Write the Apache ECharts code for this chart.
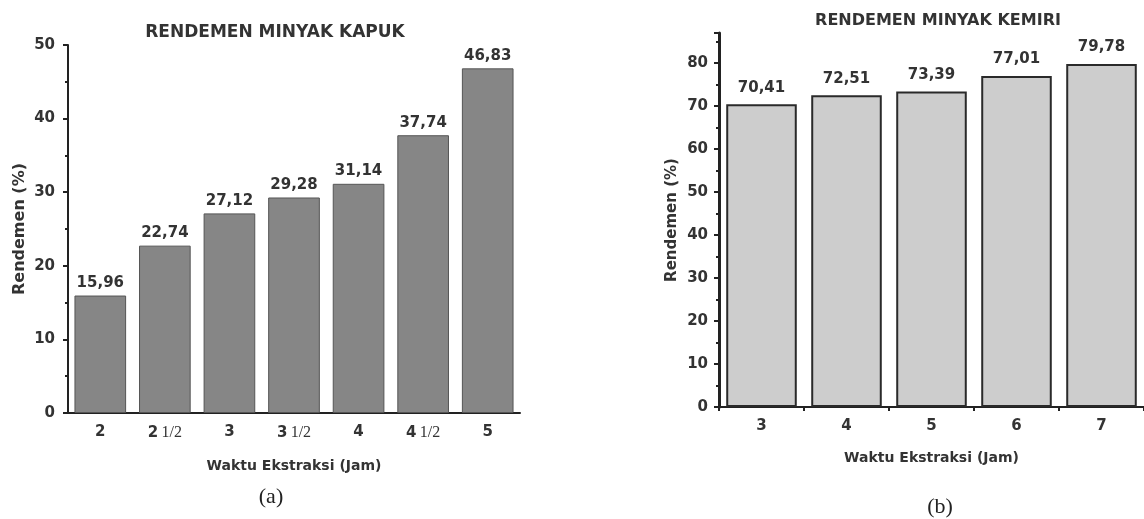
<!DOCTYPE html>
<html>
<head>
<meta charset="utf-8">
<script src="https://cdn.jsdelivr.net/npm/echarts@6/dist/echarts.min.js"></script>
<style>html,body{margin:0;padding:0;background:#fff}#c{width:1144px;height:519px}</style>
</head>
<body>
<div id="c"></div>
<script>
// Chart (a): Rendemen Minyak Kapuk
var kapukCategories = ['2', '2 1/2', '3', '3 1/2', '4', '4 1/2', '5'];
var kapukValues = [15.96, 22.74, 27.12, 29.28, 31.14, 37.74, 46.83];
var kapukYMax = 50;
var kapukYInterval = 10;

// Chart (b): Rendemen Minyak Kemiri
var kemiriCategories = ['3', '4', '5', '6', '7'];
var kemiriValues = [70.41, 72.51, 73.39, 77.01, 79.78];
var kemiriYMax = 87;
var kemiriYInterval = 10;

var titles = ['RENDEMEN MINYAK KAPUK', 'RENDEMEN MINYAK KEMIRI'];
var subLabels = ['(a)', '(b)'];
var yName = 'Rendemen (%)';
var xName = 'Waktu Ekstraksi (Jam)';

var FONT = 'DejaVu Sans';
var TXT = '#333';

function fmtComma(p) { return p.value.toFixed(2).replace('.', ','); }
function catLabel(v) {
  var parts = v.split(' ');
  if (parts.length === 2) return '{n|' + parts[0] + '} {f|' + parts[1] + '}';
  return '{n|' + v + '}';
}

var chart = echarts.init(document.getElementById('c'));
chart.setOption({
  backgroundColor: '#fff',
  animation: false,
  title: [
    { text: titles[0], left: 270, top: 19, textAlign: 'center',
      textStyle: { fontFamily: FONT, fontSize: 17, fontWeight: 'bold', color: TXT } },
    { text: titles[1], left: 933, top: 8, textAlign: 'center',
      textStyle: { fontFamily: FONT, fontSize: 16, fontWeight: 'bold', color: TXT } },
    { text: subLabels[0], left: 266, top: 481, textAlign: 'center',
      textStyle: { fontFamily: 'Liberation Serif', fontSize: 22, fontWeight: 'normal', color: '#222' } },
    { text: subLabels[1], left: 935, top: 491, textAlign: 'center',
      textStyle: { fontFamily: 'Liberation Serif', fontSize: 22, fontWeight: 'normal', color: '#222' } }
  ],
  grid: [
    { left: 68, right: 624, top: 45, bottom: 106 },
    { left: 719, right: -11, top: 33, bottom: 112 }
  ],
  xAxis: [
    { type: 'category', gridIndex: 0, data: kapukCategories,
      name: xName, nameLocation: 'middle', nameGap: 46,
      nameTextStyle: { fontFamily: FONT, fontSize: 14, fontWeight: 'bold', color: TXT },
      axisLine: { lineStyle: { color: '#222', width: 2 } },
      axisTick: { alignWithLabel: true, interval: 0, length: 5, lineStyle: { color: '#222', width: 2 } },
      axisLabel: { margin: 12, interval: 0, formatter: catLabel,
        rich: { n: { fontFamily: FONT, fontSize: 15, fontWeight: 'bold', color: TXT },
                f: { fontFamily: 'Liberation Serif', fontSize: 16, color: TXT } } } },
    { type: 'category', gridIndex: 1, data: kemiriCategories,
      name: xName, nameLocation: 'middle', nameGap: 44,
      nameTextStyle: { fontFamily: FONT, fontSize: 14, fontWeight: 'bold', color: TXT },
      axisLine: { lineStyle: { color: '#222', width: 2 } },
      axisTick: { alignWithLabel: true, interval: 0, length: 6, lineStyle: { color: '#222', width: 2 } },
      axisLabel: { margin: 12, interval: 0, fontFamily: FONT, fontSize: 15, fontWeight: 'bold', color: TXT } },
    { type: 'category', gridIndex: 1, data: kemiriCategories, position: 'bottom', offset: 0,
      axisLine: { show: true, lineStyle: { color: '#222', width: 2 } },
      axisTick: { show: true, interval: 0, alignWithLabel: false, length: 4, lineStyle: { color: '#222', width: 2 } },
      axisLabel: { show: false } }
  ],
  yAxis: [
    { type: 'value', gridIndex: 0, min: 0, max: kapukYMax, interval: kapukYInterval,
      name: yName, nameLocation: 'middle', nameGap: 40,
      nameTextStyle: { fontFamily: FONT, fontSize: 16, fontWeight: 'bold', color: TXT },
      axisLine: { show: true, lineStyle: { color: '#222', width: 2 } },
      axisTick: { show: true, length: 5, lineStyle: { color: '#222', width: 2 } },
      minorTick: { show: true, splitNumber: 2, length: 3, lineStyle: { color: '#222', width: 2 } },
      splitLine: { show: false },
      axisLabel: { margin: 13, fontFamily: FONT, fontSize: 15, fontWeight: 'bold', color: TXT } },
    { type: 'value', gridIndex: 1, min: 0, max: kemiriYMax, interval: kemiriYInterval,
      name: yName, nameLocation: 'middle', nameGap: 39,
      nameTextStyle: { fontFamily: FONT, fontSize: 15, fontWeight: 'bold', color: TXT },
      axisLine: { show: true, lineStyle: { color: '#222', width: 3 } },
      axisTick: { show: true, length: 5, lineStyle: { color: '#222', width: 2 } },
      minorTick: { show: true, splitNumber: 2, length: 3, lineStyle: { color: '#222', width: 2 } },
      splitLine: { show: false },
      axisLabel: { margin: 11, showMaxLabel: false, fontFamily: FONT, fontSize: 15, fontWeight: 'bold', color: TXT } }
  ],
  series: [
    { type: 'bar', xAxisIndex: 0, yAxisIndex: 0, data: kapukValues, barCategoryGap: '20%',
      itemStyle: { color: '#868686', borderColor: '#555', borderWidth: 1 },
      label: { show: true, position: 'top', distance: 5, formatter: fmtComma,
        fontFamily: FONT, fontSize: 15, fontWeight: 'bold', color: TXT } },
    { type: 'bar', xAxisIndex: 1, yAxisIndex: 1, data: kemiriValues, barCategoryGap: '17%',
      itemStyle: { color: '#cdcdcd', borderColor: '#2a2a2a', borderWidth: 2 },
      label: { show: true, position: 'top', distance: 9, formatter: fmtComma,
        fontFamily: FONT, fontSize: 15, fontWeight: 'bold', color: TXT } }
  ]
});
</script>
</body>
</html>
